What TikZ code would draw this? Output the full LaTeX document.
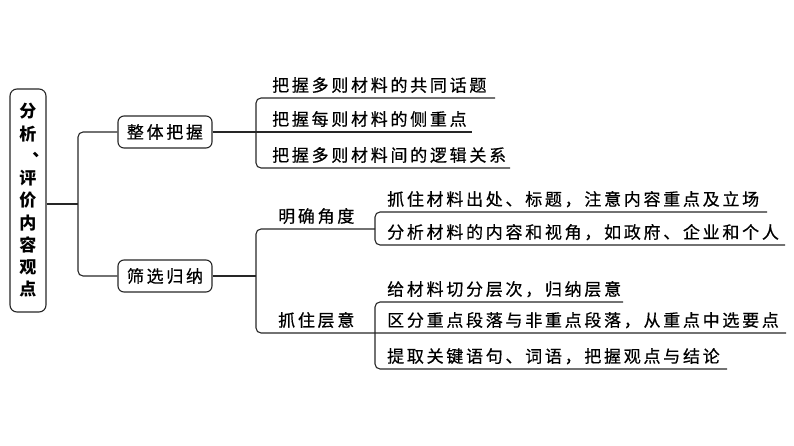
\documentclass[tikz,border=0pt]{standalone}
\usepackage{fontspec}
\newfontfamily\cjk[LetterSpace=16,FakeBold=0.5]{Noto Sans CJK SC}
\newfontfamily\cjkroot{Noto Sans CJK SC}
\tikzset{
  conn/.style={draw=black!85, line width=1.1pt, rounded corners=5pt},
  leaf/.style={anchor=base west, inner sep=0pt, font=\cjk\fontsize{17}{20}\selectfont},
  catbox/.style={draw=black!85, line width=1.1pt, rounded corners=6pt, minimum width=94pt, minimum height=32pt, inner sep=0pt, font=\cjk\fontsize{17}{20}\selectfont},
  rootbox/.style={draw=black!85, line width=1.1pt, rounded corners=7pt, minimum width=36pt, minimum height=223pt, inner sep=0pt, align=center, font=\cjkroot\bfseries\fontsize{17}{22.25}\selectfont}
}
\begin{document}
\begin{tikzpicture}[x=1pt,y=-1pt]
\useasboundingbox (0,0) rectangle (794,445);
% root
\node[rootbox] (root) at (28,200.5) {\raisebox{-3.5pt}{\parbox{20pt}{\centering 分\\析\\\makebox[1em][l]{\hspace{0.75em}\raisebox{0.35em}{、}}\\评\\价\\内\\容\\观\\点}}};
\node[catbox] (c1) at (165,132) {整体把握};
\node[catbox] (c2) at (165,276) {筛选归纳};
\coordinate (j0) at (78,204);
\draw[conn] (root.east |- j0) -- (j0);
\draw[conn] (c1.west) -| (j0) |- (c2.west);
% group 1
\node[leaf] (i1) at (272,91.5) {把握多则材料的共同话题};
\node[leaf] (i2) at (272,125.5) {把握每则材料的侧重点};
\node[leaf] (i3) at (272,161.5) {把握多则材料间的逻辑关系};
\coordinate (u1e) at (495,98);
\coordinate (u2e) at (472,132);
\coordinate (u3e) at (510,168);
\coordinate (g1b) at (256,168);
\draw[conn] (c1.east) -- (u2e);
\draw[conn] (u1e) -| (g1b) -- (u3e);
% group 2
\node[leaf] (s1) at (278,222.5) {明确角度};
\node[leaf] (s2) at (278,326.5) {抓住层意};
\coordinate (j2) at (256,276);
\coordinate (s1e) at (375,229);
\coordinate (g2b) at (256,333);
\coordinate (ub2e) at (786,333);
\draw[conn] (c2.east) -- (j2);
\draw[conn] (s1e) -| (g2b) -- (ub2e);
% sub group a
\node[leaf] (a1) at (387,205.5) {抓住材料出处、标题，注意内容重点及立场};
\node[leaf] (a2) at (387,238.5) {分析材料的内容和视角，如政府、企业和个人};
\coordinate (ua1e) at (767,212);
\coordinate (ga2) at (375,245);
\coordinate (ua2e) at (785,245);
\draw[conn] (ua1e) -| (ga2) -- (ua2e);
% sub group b
\node[leaf] (b1) at (387,295.5) {给材料切分层次，归纳层意};
\node[leaf] (b2) at (387,326.5) {区分重点段落与非重点段落，从重点中选要点};
\node[leaf] (b3) at (387,362.5) {提取关键语句、词语，把握观点与结论};
\coordinate (ub1e) at (623,302);
\coordinate (gb3) at (375,369);
\coordinate (ub3e) at (727,369);
\draw[conn] (ub1e) -| (gb3) -- (ub3e);
\end{tikzpicture}
\end{document}
